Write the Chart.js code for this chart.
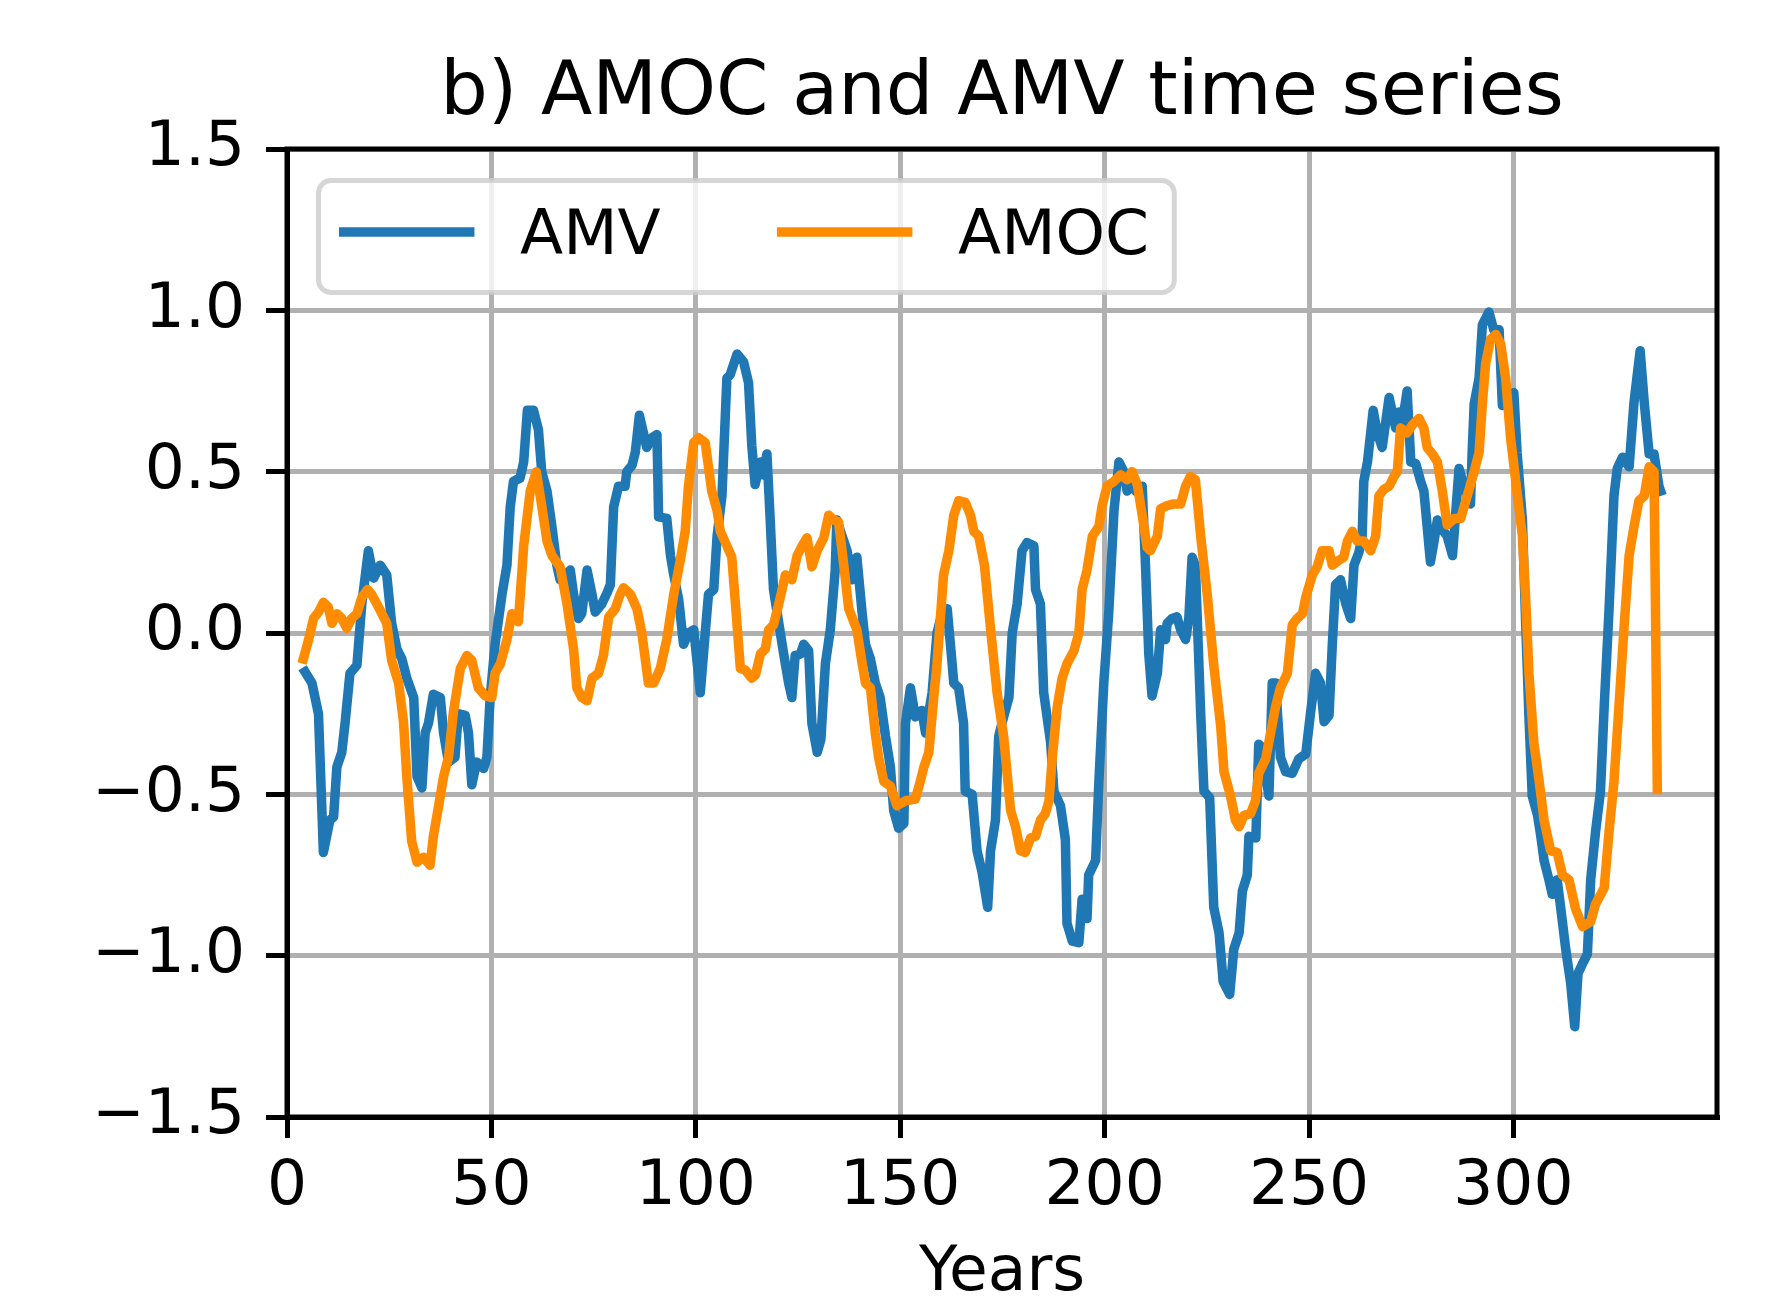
<!DOCTYPE html>
<html>
<head>
<meta charset="utf-8">
<title>b) AMOC and AMV time series</title>
<script src="https://cdn.jsdelivr.net/npm/chart.js@4.4.1/dist/chart.umd.min.js"></script>
<style>
    html, body { margin: 0; padding: 0; background: #ffffff; overflow: hidden; }
    #moldura { width: 1774px; height: 1297px; overflow: hidden; }
</style>
</head>
<body>
<div id="moldura"><canvas id="graficoSeries" width="1774" height="1330"></canvas></div>
<script>
/* DADOS */
const anosAMV = [
    4.4, 6.1, 7.7, 8.9, 10.5, 11.4, 12.2, 13.4, 14.2, 15.4, 17.1, 18.3, 19.9, 21.2, 22.8, 24.4, 25.6, 26.9, 28.1, 29.3,
    31.0, 31.8, 33.0, 33.8, 34.6, 35.8, 37.5, 38.3, 39.5, 41.1, 41.9, 43.6, 44.4, 45.2, 46.4, 48.1, 48.9, 49.7, 50.9, 52.6,
    53.8, 54.6, 55.4, 57.0, 57.9, 58.8, 60.3, 61.5, 62.3, 63.6, 64.8, 66.0, 66.8, 68.1, 69.3, 70.1, 71.3, 72.1, 73.4, 74.6,
    75.4, 77.0, 78.3, 79.1, 79.9, 81.1, 82.7, 83.1, 84.4, 85.2, 86.2, 87.2, 88.0, 89.3, 90.5, 90.9, 92.9, 93.8, 94.6, 95.8,
    97.0, 98.2, 99.5, 101.1, 102.3, 103.1, 104.4, 105.2, 106.4, 107.6, 108.4, 110.1, 111.7, 112.9, 113.7, 114.5, 115.8, 116.5, 117.4, 118.2,
    119.0, 120.3, 121.5, 122.7, 123.5, 124.3, 125.6, 126.4, 127.6, 128.4, 129.7, 130.6, 131.7, 132.9, 134.1, 134.5, 135.8, 137.0, 138.2, 139.4,
    140.7, 141.5, 142.7, 143.9, 145.1, 146.4, 147.6, 148.4, 149.6, 150.9, 151.3, 152.5, 153.7, 155.3, 156.2, 157.8, 159.0, 160.2, 161.5, 162.7,
    163.1, 164.3, 165.5, 165.9, 167.6, 168.8, 170.0, 171.4, 172.1, 173.3, 174.1, 175.3, 176.6, 177.4, 178.6, 179.8, 181.0, 182.7, 183.1, 184.3,
    185.1, 186.8, 187.6, 189.2, 190.4, 190.8, 192.1, 193.7, 194.5, 195.7, 196.1, 197.8, 198.6, 199.8, 201.0, 202.3, 203.5, 204.7, 205.5, 206.3,
    207.6, 209.2, 210.0, 210.8, 211.6, 212.9, 213.7, 214.9, 215.3, 216.5, 217.7, 218.6, 219.8, 220.6, 221.4, 222.2, 223.5, 224.3, 225.7, 226.7,
    228.0, 229.0, 230.6, 231.6, 232.9, 233.7, 234.9, 235.3, 237.0, 237.7, 238.6, 239.4, 240.2, 241.0, 241.8, 243.0, 244.3, 245.9, 247.5, 249.2,
    250.4, 251.6, 252.8, 253.7, 254.9, 255.7, 256.5, 257.7, 259.0, 260.2, 261.0, 262.2, 263.0, 263.4, 264.3, 265.7, 266.7, 267.9, 269.6, 271.2,
    272.0, 272.8, 274.0, 274.9, 276.1, 277.3, 278.1, 278.9, 279.7, 280.6, 281.4, 282.6, 283.8, 285.1, 286.7, 287.9, 289.5, 289.9, 290.4, 291.6,
    292.4, 294.0, 295.2, 296.5, 297.3, 298.5, 300.1, 300.9, 302.2, 303.0, 303.8, 304.6, 305.9, 306.7, 307.5, 308.7, 309.5, 310.7, 311.6, 312.8,
    314.0, 315.0, 315.8, 316.9, 318.1, 318.9, 320.1, 321.3, 322.2, 323.4, 324.6, 325.4, 326.7, 328.3, 329.5, 331.0, 332.0, 333.2, 334.4, 335.6, 336.0
];
const valoresAMV = [
    -0.12, -0.155, -0.25, -0.68, -0.58, -0.57, -0.415, -0.37, -0.28, -0.125, -0.10, 0.09, 0.255, 0.17, 0.21, 0.18, 0.03, -0.05, -0.08, -0.14,
    -0.20, -0.445, -0.48, -0.31, -0.28, -0.19, -0.20, -0.31, -0.40, -0.385, -0.25, -0.255, -0.31, -0.47, -0.40, -0.42, -0.385, -0.20, -0.035, 0.12,
    0.21, 0.39, 0.47, 0.48, 0.53, 0.69, 0.69, 0.63, 0.50, 0.44, 0.33, 0.21, 0.165, 0.18, 0.195, 0.12, 0.045, 0.06, 0.195, 0.12,
    0.065, 0.09, 0.125, 0.15, 0.39, 0.455, 0.455, 0.50, 0.52, 0.56, 0.675, 0.62, 0.575, 0.605, 0.615, 0.36, 0.355, 0.24, 0.18, 0.105,
    -0.035, 0.0, 0.01, -0.185, 0.0, 0.12, 0.135, 0.30, 0.425, 0.79, 0.80, 0.865, 0.84, 0.775, 0.58, 0.46, 0.53, 0.49, 0.555, 0.35,
    0.135, 0.03, -0.065, -0.155, -0.20, -0.07, -0.065, -0.035, -0.055, -0.28, -0.37, -0.33, -0.095, 0.01, 0.195, 0.35, 0.30, 0.255, 0.165, 0.235,
    0.06, -0.035, -0.08, -0.155, -0.20, -0.32, -0.415, -0.55, -0.605, -0.59, -0.28, -0.17, -0.26, -0.24, -0.31, -0.185, 0.0, 0.06, 0.075, -0.095,
    -0.155, -0.17, -0.28, -0.49, -0.50, -0.675, -0.74, -0.85, -0.675, -0.58, -0.32, -0.26, -0.20, 0.0, 0.09, 0.255, 0.28, 0.27, 0.135, 0.09,
    -0.185, -0.34, -0.49, -0.535, -0.64, -0.90, -0.955, -0.96, -0.825, -0.885, -0.75, -0.705, -0.46, -0.155, 0.06, 0.38, 0.53, 0.50, 0.44, 0.46,
    0.44, 0.455, 0.21, -0.065, -0.195, -0.125, 0.01, -0.02, 0.03, 0.045, 0.05, 0.01, -0.02, 0.045, 0.235, 0.21, -0.25, -0.49, -0.51, -0.85,
    -0.93, -1.08, -1.12, -0.98, -0.93, -0.80, -0.75, -0.63, -0.635, -0.345, -0.355, -0.445, -0.505, -0.155, -0.155, -0.385, -0.43, -0.435, -0.39, -0.375,
    -0.245, -0.125, -0.155, -0.275, -0.255, -0.035, 0.15, 0.165, 0.09, 0.045, 0.21, 0.25, 0.30, 0.47, 0.53, 0.69, 0.62, 0.575, 0.73, 0.635,
    0.685, 0.65, 0.75, 0.53, 0.525, 0.47, 0.44, 0.33, 0.22, 0.285, 0.35, 0.32, 0.30, 0.24, 0.51, 0.455, 0.40, 0.56, 0.71, 0.79,
    0.955, 0.995, 0.94, 0.94, 0.705, 0.715, 0.745, 0.56, 0.35, 0.03, -0.26, -0.505, -0.565, -0.63, -0.705, -0.765, -0.81, -0.765, -0.855, -0.98,
    -1.085, -1.22, -1.055, -1.025, -0.995, -0.765, -0.615, -0.49, -0.23, 0.075, 0.425, 0.51, 0.545, 0.515, 0.715, 0.875, 0.715, 0.555, 0.555, 0.455, 0.44
];

const anosAMOC = [
    4.0, 5.2, 6.5, 7.7, 8.9, 10.1, 11.0, 12.2, 13.4, 14.6, 15.8, 17.1, 18.3, 19.7, 20.7, 22.4, 24.4, 25.6, 27.3, 28.5,
    29.3, 30.5, 31.8, 33.4, 35.0, 35.8, 37.1, 38.3, 39.5, 40.7, 42.4, 44.0, 45.2, 46.8, 48.5, 50.1, 50.9, 52.2, 53.8, 55.0,
    56.6, 57.9, 59.5, 61.0, 62.3, 63.6, 64.8, 66.8, 68.5, 70.1, 70.9, 72.1, 73.4, 74.6, 76.2, 77.4, 78.7, 80.3, 81.5, 82.3,
    84.0, 85.6, 86.8, 88.4, 89.7, 91.3, 92.9, 94.6, 96.2, 97.4, 98.2, 99.5, 100.7, 102.3, 103.9, 105.2, 106.0, 107.6, 108.8, 109.7,
    110.9, 112.1, 113.7, 114.6, 115.8, 117.0, 117.8, 119.0, 120.3, 121.9, 123.5, 124.8, 126.0, 127.2, 128.4, 129.7, 131.3, 132.5, 133.7, 134.9,
    136.2, 137.4, 139.4, 140.7, 141.5, 142.7, 143.9, 144.7, 146.0, 147.6, 149.2, 151.3, 153.7, 154.9, 155.8, 157.0, 158.2, 159.0, 160.6, 161.9,
    163.1, 164.3, 165.9, 167.2, 168.0, 169.2, 170.6, 172.2, 173.7, 175.3, 177.0, 178.2, 179.4, 180.6, 181.9, 183.1, 184.3, 185.5, 186.4, 187.2,
    188.4, 189.6, 190.8, 192.5, 193.7, 194.5, 195.7, 197.0, 198.6, 199.4, 200.6, 202.3, 203.9, 205.5, 206.7, 208.0, 209.2, 210.4, 211.2, 212.9,
    213.7, 215.3, 216.9, 218.6, 219.8, 221.0, 222.2, 223.5, 225.1, 226.7, 228.4, 229.2, 230.8, 232.0, 232.9, 234.1, 235.7, 236.9, 237.7, 239.4,
    240.6, 241.8, 243.0, 244.7, 245.9, 247.1, 248.4, 249.2, 250.8, 252.0, 253.2, 254.9, 255.7, 257.3, 258.5, 259.4, 260.6, 261.8, 263.4, 265.1,
    266.3, 267.1, 268.3, 269.6, 270.8, 271.6, 272.4, 274.0, 275.3, 276.9, 278.1, 278.9, 280.2, 281.4, 282.6, 283.8, 285.5, 287.1, 288.7, 290.4,
    291.6, 292.4, 293.2, 294.4, 295.7, 296.9, 298.1, 299.3, 301.0, 302.2, 303.0, 303.8, 305.0, 306.3, 307.5, 309.1, 310.7, 312.0, 313.6, 315.2,
    316.9, 318.9, 320.1, 322.2, 323.4, 324.6, 325.8, 327.1, 328.3, 329.5, 330.7, 332.0, 333.2, 334.4, 335.2
];
const valoresAMOC = [
    -0.08, -0.025, 0.045, 0.065, 0.095, 0.08, 0.03, 0.06, 0.045, 0.015, 0.045, 0.06, 0.11, 0.135, 0.12, 0.08, 0.03, -0.085, -0.155, -0.275,
    -0.445, -0.645, -0.71, -0.695, -0.72, -0.63, -0.535, -0.445, -0.385, -0.245, -0.11, -0.07, -0.085, -0.17, -0.195, -0.20, -0.125, -0.095, -0.02, 0.06,
    0.035, 0.27, 0.44, 0.50, 0.395, 0.285, 0.24, 0.205, 0.09, -0.05, -0.17, -0.20, -0.21, -0.14, -0.125, -0.07, 0.05, 0.075, 0.12, 0.14,
    0.12, 0.075, 0.0, -0.155, -0.155, -0.11, -0.02, 0.12, 0.225, 0.315, 0.455, 0.59, 0.605, 0.59, 0.44, 0.38, 0.315, 0.27, 0.235, 0.09,
    -0.11, -0.115, -0.14, -0.13, -0.065, -0.05, 0.01, 0.025, 0.09, 0.18, 0.165, 0.24, 0.27, 0.295, 0.205, 0.255, 0.295, 0.365, 0.35, 0.345,
    0.21, 0.075, 0.01, -0.095, -0.155, -0.17, -0.31, -0.385, -0.46, -0.475, -0.535, -0.52, -0.515, -0.46, -0.415, -0.37, -0.20, -0.095, 0.18, 0.255,
    0.365, 0.41, 0.405, 0.365, 0.315, 0.30, 0.21, 0.0, -0.185, -0.32, -0.55, -0.60, -0.675, -0.68, -0.635, -0.63, -0.58, -0.56, -0.52, -0.385,
    -0.23, -0.14, -0.095, -0.055, 0.0, 0.135, 0.195, 0.30, 0.33, 0.395, 0.455, 0.47, 0.49, 0.475, 0.50, 0.46, 0.365, 0.265, 0.255, 0.30,
    0.385, 0.395, 0.40, 0.40, 0.455, 0.485, 0.475, 0.30, 0.12, -0.10, -0.29, -0.43, -0.505, -0.58, -0.60, -0.565, -0.56, -0.52, -0.435, -0.39,
    -0.31, -0.23, -0.17, -0.125, 0.025, 0.045, 0.06, 0.11, 0.18, 0.205, 0.255, 0.255, 0.21, 0.225, 0.235, 0.285, 0.315, 0.285, 0.285, 0.255,
    0.30, 0.425, 0.445, 0.455, 0.485, 0.50, 0.635, 0.62, 0.645, 0.665, 0.635, 0.575, 0.555, 0.53, 0.44, 0.335, 0.355, 0.355, 0.425, 0.50,
    0.56, 0.71, 0.835, 0.91, 0.925, 0.895, 0.79, 0.605, 0.425, 0.30, 0.105, -0.125, -0.34, -0.46, -0.58, -0.675, -0.68, -0.75, -0.765, -0.855,
    -0.91, -0.895, -0.84, -0.79, -0.615, -0.46, -0.23, 0.025, 0.24, 0.33, 0.41, 0.425, 0.515, 0.50, -0.485
];

// marcas dos eixos
const ticksAnos = [0, 50, 100, 150, 200, 250, 300];
const ticksValores = [-1.5, -1.0, -0.5, 0.0, 0.5, 1.0, 1.5];

const corAMV = '#1f77b4';
const corAMOC = '#ff8c00';

// junta anos e valores no formato {x, y}
function montarPontos(anos, valores) {
    let pontos = [];
    for (let i = 0; i < anos.length; i++) {
        pontos.push({ x: anos[i], y: valores[i] });
    }
    return pontos;
}

/* moldura preta nos 4 lados (como no matplotlib) */
const molduraEixos = {
    id: 'molduraEixos',
    afterDatasetsDraw(chart) {
        const ctx = chart.ctx;
        const a = chart.chartArea;
        ctx.save();
        ctx.strokeStyle = '#000000';
        ctx.lineWidth = 5;
        ctx.strokeRect(a.left, a.top, a.right - a.left, a.bottom - a.top);
        ctx.restore();
    }
};

/* legenda dentro da area do grafico, em 2 colunas */
const legendaCaixa = {
    id: 'legendaCaixa',
    afterDraw(chart) {
        const ctx = chart.ctx;
        const a = chart.chartArea;
        const fs = 63;
        const espacoColunas = 121;
        const x0 = a.left + 0.5 * fs;
        const y0 = a.top + 0.5 * fs;
        const series = chart.data.datasets;

        ctx.save();
        ctx.font = fs + 'px "DejaVu Sans"';

        let largura = 0.8 * fs;
        for (let i = 0; i < series.length; i++) {
            largura += 2.0 * fs + 0.8 * fs + ctx.measureText(series[i].label).width;
            if (i > 0) largura += espacoColunas;
        }
        const altura = 112;

        ctx.beginPath();
        ctx.roundRect(x0, y0, largura, altura, 12.6);
        ctx.fillStyle = 'rgba(255, 255, 255, 0.8)';
        ctx.fill();
        ctx.lineWidth = 5;
        ctx.strokeStyle = 'rgba(204, 204, 204, 0.8)';
        ctx.stroke();

        let x = x0 + 0.4 * fs;
        const yLinha = y0 + 51.5;
        const yTexto = y0 + 73.5;
        for (let i = 0; i < series.length; i++) {
            ctx.beginPath();
            ctx.moveTo(x, yLinha);
            ctx.lineTo(x + 2.0 * fs, yLinha);
            ctx.lineWidth = 9.5;
            ctx.lineCap = 'square';
            ctx.strokeStyle = series[i].borderColor;
            ctx.stroke();

            x += 2.0 * fs + 0.8 * fs;
            ctx.fillStyle = '#000000';
            ctx.textBaseline = 'alphabetic';
            ctx.textAlign = 'left';
            ctx.fillText(series[i].label, x, yTexto);
            x += ctx.measureText(series[i].label).width + espacoColunas;
        }
        ctx.restore();
    }
};

function plotarSeries() {
    Chart.defaults.font.family = '"DejaVu Sans"';
    Chart.defaults.font.size = 63;
    Chart.defaults.color = '#000000';

    const dados = {
        datasets: [{
            label: 'AMV',
            data: montarPontos(anosAMV, valoresAMV),
            borderColor: corAMV,
            borderWidth: 9.5,
            pointRadius: 0,
            borderJoinStyle: 'round',
            borderCapStyle: 'square',
            fill: false,
            order: 1
        }, {
            label: 'AMOC',
            data: montarPontos(anosAMOC, valoresAMOC),
            borderColor: corAMOC,
            borderWidth: 9.5,
            pointRadius: 0,
            borderJoinStyle: 'round',
            borderCapStyle: 'square',
            fill: false,
            order: 0
        }]
    };

    const grade = {
        color: '#b0b0b0',
        lineWidth: 5,
        tickLength: 21,
        tickColor: '#000000',
        tickWidth: 5
    };

    const config = {
        type: 'line',
        data: dados,
        options: {
            responsive: false,
            animation: false,
            devicePixelRatio: 1,
            layout: {
                padding: { left: 0, right: 57, top: 0, bottom: 0 }
            },
            scales: {
                x: {
                    type: 'linear',
                    min: 0,
                    max: 349.8,
                    afterBuildTicks: function (scale) {
                        scale.ticks = ticksAnos.map(v => ({ value: v }));
                    },
                    afterFit: function (scale) {
                        scale.height = 213;
                    },
                    ticks: {
                        padding: 12,
                        maxRotation: 0,
                        autoSkip: false,
                        font: { size: 63 },
                        callback: v => String(v)
                    },
                    grid: grade,
                    border: { display: true, color: '#000000', width: 5 },
                    title: {
                        display: true,
                        text: 'Years',
                        font: { size: 63 },
                        padding: { top: 0, bottom: 19 }
                    }
                },
                y: {
                    type: 'linear',
                    min: -1.5,
                    max: 1.5,
                    afterBuildTicks: function (scale) {
                        scale.ticks = ticksValores.map(v => ({ value: v }));
                    },
                    afterFit: function (scale) {
                        scale.width = 287;
                    },
                    ticks: {
                        padding: 21,
                        font: { size: 63 },
                        callback: v => v.toFixed(1).replace('-', '\u2212')
                    },
                    grid: grade,
                    border: { display: true, color: '#000000', width: 5 }
                }
            },
            plugins: {
                title: {
                    display: true,
                    text: 'b) AMOC and AMV time series',
                    color: '#000000',
                    fullSize: false,
                    font: { size: 75, weight: 'normal' },
                    padding: { top: 50, bottom: 9 }
                },
                legend: { display: false },
                tooltip: { enabled: false }
            }
        },
        plugins: [molduraEixos, legendaCaixa]
    };

    new Chart(document.getElementById('graficoSeries').getContext('2d'), config);
}

plotarSeries();
</script>
</body>
</html>
